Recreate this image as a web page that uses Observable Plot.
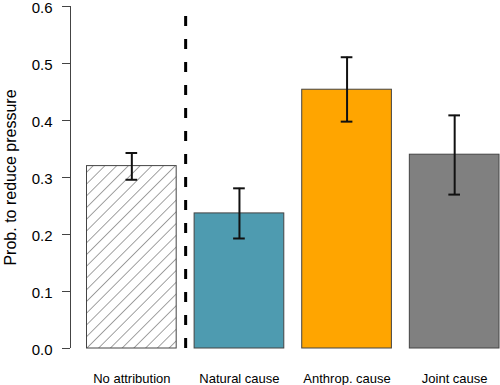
<!DOCTYPE html>
<html>
<head>
<meta charset="utf-8">
<script src="https://cdn.jsdelivr.net/npm/d3@7"></script>
<script src="https://cdn.jsdelivr.net/npm/@observablehq/plot@0.6"></script>
<style>
  html, body { margin: 0; padding: 0; background: #fff; overflow: hidden; }
  #chart svg { display: block; }
</style>
</head>
<body>
<svg width="0" height="0" style="position:absolute">
  <defs>
    <pattern id="hatch" patternUnits="userSpaceOnUse" width="8.3" height="8.3" patternTransform="rotate(45)">
      <line x1="0" y1="0" x2="0" y2="8.3" stroke="#555" stroke-width="1.1"></line>
    </pattern>
  </defs>
</svg>
<div id="chart"></div>
<script>
const categories = ["No attribution", "Natural cause", "Anthrop. cause", "Joint cause"];
const values = [0.320, 0.237, 0.454, 0.340];
const lower = [0.296, 0.193, 0.398, 0.270];
const upper = [0.343, 0.281, 0.511, 0.409];
const fills = ["url(#hatch)", "#4e9bb0", "#ffa500", "#808080"];
const yTicks = [0, 0.1, 0.2, 0.3, 0.4, 0.5, 0.6];
const yLabel = "Prob. to reduce pressure";

// barplot-style layout: width 1, space 0.2
const data = categories.map((c, i) => ({
  cat: c,
  x1: 0.2 + i * 1.2,
  x2: 1.2 + i * 1.2,
  xc: 0.7 + i * 1.2,
  v: values[i],
  lo: lower[i],
  hi: upper[i],
  fill: fills[i]
}));
const xMin = 0.2 - 0.04 * 4.6;
const sep = 1.3; // between the first and second bar

const font = "'Liberation Sans', Arial, Helvetica, sans-serif";

const plot = Plot.plot({
  width: 500,
  height: 385,
  marginLeft: 70,
  marginRight: 0,
  marginTop: 6,
  marginBottom: 37,
  style: {fontFamily: font, background: "white"},
  x: {domain: [xMin, 4.811], axis: null},
  y: {domain: [0, 0.6], axis: null},
  marks: [
    Plot.rectY(data, {x1: "x1", x2: "x2", y1: 0, y2: "v", fill: "fill", stroke: "#444", strokeWidth: 1, inset: 0}),
    Plot.ruleX([sep], {x: d => d, y1: 0, y2: 0.6, stroke: "#000", strokeWidth: 3, strokeDasharray: "10,13"}),
    Plot.ruleX(data, {x: "xc", y1: "lo", y2: "hi", stroke: "#111", strokeWidth: 2}),
    Plot.ruleY(data, {y: "lo", x1: d => d.xc - 0.065, x2: d => d.xc + 0.065, stroke: "#111", strokeWidth: 2}),
    Plot.ruleY(data, {y: "hi", x1: d => d.xc - 0.065, x2: d => d.xc + 0.065, stroke: "#111", strokeWidth: 2}),
    Plot.ruleX([xMin], {x: d => d, y1: 0, y2: 0.6, stroke: "#444", strokeWidth: 1}),
    Plot.axisY({ticks: yTicks, tickFormat: () => "", tickSize: 8, stroke: "#444", label: null}),
    Plot.text(yTicks, {y: d => d, text: d3.format(".1f"), frameAnchor: "left", textAnchor: "end", dx: -18, dy: 2, fontSize: 15, fill: "#000"}),
    Plot.text(data, {x: "xc", y: 0, text: "cat", dy: 30, fontSize: 13, fill: "#000"}),
    Plot.text([yLabel], {frameAnchor: "left", textAnchor: "middle", rotate: -90, dx: -60, fontSize: 16, fill: "#000"})
  ]
});
document.getElementById("chart").appendChild(plot);
</script>
</body>
</html>
